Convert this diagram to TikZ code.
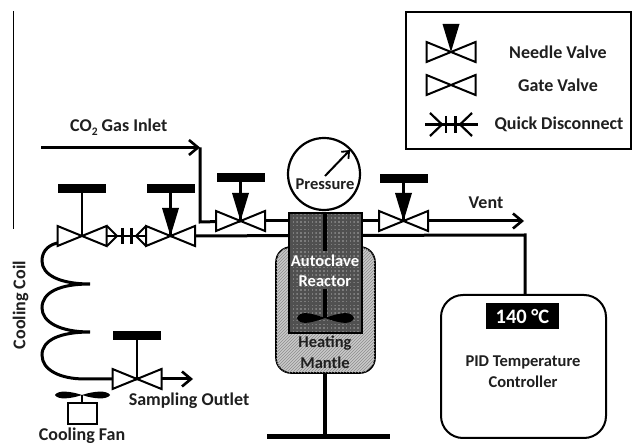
\documentclass[tikz,border=0pt]{standalone}
\usepackage{fontspec}
\setmainfont{Carlito}
\usetikzlibrary{arrows.meta,patterns,calc}
\definecolor{reactorgray}{HTML}{505050}
\definecolor{reactordot}{HTML}{7C7C7C}
\definecolor{mantlegray}{HTML}{CACACA}
\pgfdeclarepatternformonly{reactordots}{\pgfqpoint{0pt}{0pt}}{\pgfqpoint{2pt}{2pt}}{\pgfqpoint{3.8pt}{3.8pt}}{%
  \pgfpathrectangle{\pgfqpoint{0pt}{0pt}}{\pgfqpoint{1.5pt}{1.5pt}}\pgfusepath{fill}}
\tikzset{
  x=1pt,y=-1pt,
  pipe/.style={line width=3pt,line join=miter},
  pipearrow/.style={pipe,-{Straight Barb[length=9pt,width=15pt,line width=2.6pt]}},
  valvebody/.style={draw=black,fill=white,line width=2pt,line join=miter},
  handlebar/.style={fill=black,draw=none},
  stem/.style={line width=2.6pt},
  lbl/.style={font=\bfseries\fontsize{18}{20}\selectfont,inner sep=0pt,text=black!88},
  midlbl/.style={lbl,font=\bfseries\fontsize{16.5}{18}\selectfont},
  coil/.style={line width=3pt,line cap=round},
}
\newcommand{\gatebody}[1]{%
  \draw[valvebody] ($(#1)+(-24.5,-10)$) -- ($(#1)+(24.5,10)$) -- ($(#1)+(24.5,-10)$) -- ($(#1)+(-24.5,10)$) -- cycle;}
\newcommand{\handle}[2]{%
  \fill[handlebar] ($(#1)+(-24,-#2)$) rectangle ($(#1)+(24,-#2+9.5)$);
  \draw[stem] ($(#1)+(0,-#2+9)$) -- (#1);}
\newcommand{\needle}[1]{%
  \fill ($(#1)+(-8.5,-28)$) -- ($(#1)+(8.5,-28)$) -- (#1) -- cycle;}
\begin{document}
\begin{tikzpicture}
\useasboundingbox (0,0) rectangle (632,443);
\clip (0,0) rectangle (632,443);
\fill[white] (0,0) rectangle (632,443);
\coordinate (vA) at (82,236);
\coordinate (vB) at (170.5,236);
\coordinate (vC) at (240.5,221);
\coordinate (vD) at (403.5,221);
\coordinate (vE) at (137,379);
\coordinate (inletStart) at (41,147.5);
\coordinate (inletEnd) at (200,147.5);
\coordinate (inletCorner) at (200,222);
\coordinate (ventEnd) at (524,221);
\coordinate (coilTop) at (57,243);
\coordinate (sampleEnd) at (193,379);
\coordinate (ctrlCorner) at (525,235);
\draw[line width=1.3pt] (13.5,11) -- (13.5,229);
\draw[pipe] (inletEnd) -- (inletCorner) -- (vC);
\draw[pipearrow] (inletStart) -- (inletEnd);
\draw[pipe] (vB) -- (325,235.5);
\draw[pipe] (vC) -- (325,221);
\draw[pipe] (325,221) -- (vD);
\draw[pipearrow] (vD) -- (ventEnd);
\draw[pipe] (325,235.5) -- (ctrlCorner) -- (525,296);
\draw[coil] (coilTop) .. controls (46,246) and (42,253) .. (42,261)
  .. controls (42,275) and (60,284) .. (90,284)
  .. controls (60,284) and (42,292) .. (42,308)
  .. controls (42,322) and (60,332) .. (90,332)
  .. controls (60,332) and (42,340) .. (42,355)
  .. controls (42,370) and (60,379) .. (85,379) -- (vE);
\draw[pipearrow] (vE) -- (sampleEnd);
\draw[line width=2.4pt] (vA) -- (vB);
\draw[line width=2pt] (107,226) -- (117,236) -- (107,246);
\draw[line width=2pt] (146,226) -- (136,236) -- (146,246);
\draw[line width=2.6pt] (122.5,228) -- (122.5,244) (131.5,228) -- (131.5,244);
\gatebody{vA}\handle{vA}{52}
\gatebody{vB}\handle{vB}{52}\needle{vB}
\gatebody{vC}\handle{vC}{48}\needle{vC}
\gatebody{vD}\handle{vD}{47}\needle{vD}
\gatebody{vE}\handle{vE}{48}
\draw[line width=1.6pt,fill=mantlegray,rounded corners=15pt] (276,247) rectangle (375,373);
\path[pattern=north east lines,pattern color=black!45,rounded corners=15pt] (276,247) rectangle (375,373);
\fill[reactorgray] (289,213) rectangle (362,333);
\path[pattern=reactordots,pattern color=reactordot] (289,213) rectangle (362,333);
\draw[line width=2.2pt] (289,213) rectangle (362,333);
\draw[line width=4pt] (325,213) -- (325,251);
\draw[line width=4pt] (325,289) -- (325,318);
\fill (297,318) .. controls (300,311) and (308,312) .. (325,318) .. controls (342,312) and (351,311) .. (354,318)
  .. controls (351,325) and (342,324) .. (325,318) .. controls (308,324) and (300,325) .. (297,318) -- cycle;
\node[midlbl,text=white] (autoclave) at (325,260.5) {Autoclave};
\node[midlbl,text=white] (reactorlbl) at (325,281) {Reactor};
\node[midlbl] (heating) at (325,343) {Heating};
\node[midlbl] (mantle) at (325,363) {Mantle};
\coordinate (standTop) at (325,373);
\coordinate (standBase) at (325,436.5);
\draw[line width=4pt] (standTop) -- (standBase);
\draw[line width=5pt] (267,436.5) -- (390,436.5);
\node[circle,draw,line width=2.2pt,fill=white,minimum size=72pt,inner sep=0pt] (gauge) at (324,174) {};
\draw[line width=2pt,-{Straight Barb[length=6pt,width=10pt,line width=1.8pt]}] (325,176) -- (350,150);
\node[midlbl] (pressure) at (325,184) {Pressure};
\fill (55,395) .. controls (58,390) and (70,391) .. (82,395) .. controls (94,391) and (107,390) .. (110,395)
  .. controls (107,400) and (94,399) .. (82,395) .. controls (70,399) and (58,400) .. (55,395) -- cycle;
\draw[line width=2.4pt] (82,395) -- (82,403);
\node[draw,line width=2.6pt,fill=white,minimum width=29pt,minimum height=21pt,inner sep=0pt] (fanbox) at (82.5,413.5) {};
\node[lbl,anchor=west] (inletlbl) at (70,127) {CO\raisebox{-3.5pt}{\fontsize{11.5}{12}\selectfont 2} Gas Inlet};
\node[lbl] (vent) at (486,203) {Vent};
\node[lbl] (sampling) at (189,400.5) {Sampling Outlet};
\node[lbl,anchor=base] (fanlbl) at (82,440) {Cooling Fan};
\node[lbl,rotate=90] (coillbl) at (20.5,305) {Cooling Coil};
\node[draw,line width=2pt,fill=white,rounded corners=22pt,minimum width=165pt,minimum height=143pt,inner sep=0pt] (pid) at (523.5,366.5) {};
\node[fill=black,text=white,font=\bfseries\fontsize{20.5}{22}\selectfont,minimum width=73pt,minimum height=26pt,inner sep=0pt] (display) at (522.5,316) {140 °C};
\node[midlbl] (pidA) at (523,362) {PID Temperature};
\node[midlbl] (pidB) at (523,382) {Controller};
\draw[line width=2pt,fill=white] (406,12.5) rectangle (631,149.5);
\coordinate (lgA) at (451,52);
\coordinate (lgB) at (451,85);
\coordinate (lgC) at (451,124);
\gatebody{lgA}
\fill ($(lgA)+(-8.5,-28)$) -- ($(lgA)+(8.5,-28)$) -- (lgA) -- cycle;
\gatebody{lgB}
\draw[line width=2.2pt] (425,124.5) -- (478,124.5);
\draw[line width=2.2pt] (430,113) -- (442,124.5) -- (430,136);
\draw[line width=2.2pt] (472,113) -- (460,124.5) -- (472,136);
\draw[line width=2.4pt] (446,116) -- (446,133) (455.5,116) -- (455.5,133);
\node[lbl] (lgAt) at (558,52) {Needle Valve};
\node[lbl] (lgBt) at (558,85) {Gate Valve};
\node[lbl] (lgCt) at (559,124) {Quick Disconnect};
\end{tikzpicture}
\end{document}
